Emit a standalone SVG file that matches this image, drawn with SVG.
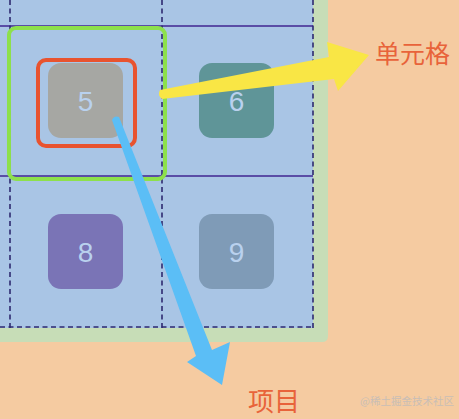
<svg xmlns="http://www.w3.org/2000/svg" width="459" height="419" viewBox="0 0 459 419">
<style>
.vd{stroke:#2E2A70;stroke-width:1.6;stroke-dasharray:5 3.5;fill:none}
.hs{stroke:#5A4DA6;stroke-width:2;fill:none}
.num{font-family:"Liberation Sans","Noto Sans",sans-serif;font-size:28px;fill:#B9D1EE;text-anchor:middle}
.lbl{font-family:"Noto Sans CJK SC",sans-serif;fill:#E8633A}
.item{stroke:none}
</style>
<rect x="0" y="0" width="459" height="419" fill="#F5CBA1"/>
<g id="container">
<path d="M0 0 H328 V336 Q328 342 322 342 H0 Z" fill="#C7DDB7"/>
<rect x="0" y="0" width="313" height="328" fill="#A9C5E5"/>
</g>
<g id="grid-lines">
<line class="hs" x1="0" y1="26" x2="313" y2="26"/>
<line class="hs" x1="0" y1="176" x2="313" y2="176"/>
<line class="vd" x1="10" y1="0" x2="10" y2="328"/>
<line class="vd" x1="162" y1="0" x2="162" y2="328"/>
<line class="vd" x1="313" y1="0" x2="313" y2="328"/>
<line class="vd" x1="0" y1="327" x2="313" y2="327"/>
</g>
<g id="cell-highlight">
<rect x="9" y="28" width="156" height="151" rx="7" fill="none" stroke="#8DE04C" stroke-width="4"/>
</g>
<g id="item-5">
<rect class="item" x="48" y="63" width="75" height="75" rx="13" fill="#A6A7A3"/>
<text class="num" x="85.5" y="110.5">5</text>
</g>
<g id="item-highlight">
<rect x="38" y="60" width="97" height="86" rx="8" fill="none" stroke="#E8532F" stroke-width="4"/>
</g>
<g id="item-6">
<rect class="item" x="199" y="63" width="75" height="75" rx="13" fill="#5F9598"/>
<text class="num" x="236.5" y="110.5">6</text>
</g>
<g id="item-8">
<rect class="item" x="48" y="214" width="75" height="75" rx="13" fill="#7A74B6"/>
<text class="num" x="85.5" y="261.5">8</text>
</g>
<g id="item-9">
<rect class="item" x="199" y="214" width="75" height="75" rx="13" fill="#7F9BB7"/>
<text class="num" x="236.5" y="261.5">9</text>
</g>
<g id="connectors">
<path d="M160 90 L329 57 L327 42 L369 55 L338 91 L334 79 L162 99 Q157 95 160 90 Z" fill="#F9E645"/>
<path d="M112 120 Q114 115 119 117 L212 350 L230 342 L222 385 L187 362 L196 356 Z" fill="#5BBEF6"/>
</g>
<g id="label-cell">
<text class="lbl" x="375" y="63" font-size="25">单元格</text>
</g>
<g id="label-item">
<text class="lbl" x="248" y="411" font-size="26">项目</text>
</g>
<text x="360" y="405" font-family="Noto Sans CJK SC,sans-serif" font-size="10.5" fill="#C9BEB6">@稀土掘金技术社区</text>
</svg>
